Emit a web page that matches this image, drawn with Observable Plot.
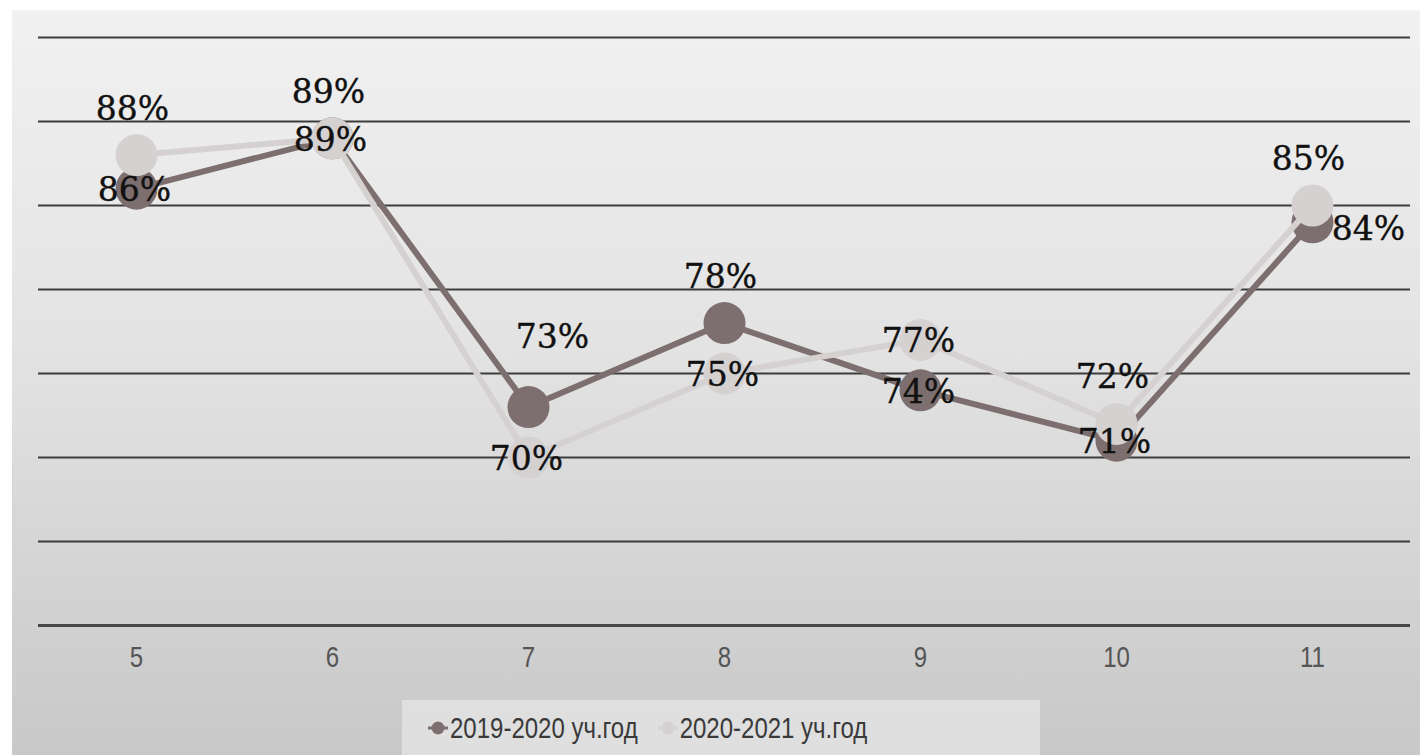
<!DOCTYPE html>
<html>
<head>
<meta charset="utf-8">
<script src="https://cdn.jsdelivr.net/npm/d3@7"></script>
<script src="https://cdn.jsdelivr.net/npm/@observablehq/plot@0.6"></script>
<style>
  html, body { margin: 0; padding: 0; background: #ffffff; width: 1420px; height: 755px; overflow: hidden; }
  #frame { position: absolute; left: 12px; top: 10px; width: 1408px; height: 745px;
           background: linear-gradient(#f1f1f1 0%, #e3e3e3 45%, #c8c8c8 100%); }
  #chart { position: absolute; left: 0; top: 0; }
  #legend { position: absolute; left: 390px; top: 690px; width: 638px; height: 55px;
            background: rgba(240,240,240,0.55); display: flex; align-items: center; gap: 20px;
            padding-left: 26px; box-sizing: border-box;
            font-family: "Liberation Sans", Arial, sans-serif; font-size: 24px; color: #3a3a3a; }
  .item { display: flex; align-items: center; gap: 2px; }
  .item span { display: inline-block; transform: scaleY(1.22); }
</style>
</head>
<body>
<div id="frame">
  <div id="chart"></div>
  <div id="legend"></div>
</div>
<script>
// ---- data ----
const grades = ["5", "6", "7", "8", "9", "10", "11"];
const series2019 = [0.86, 0.89, 0.73, 0.78, 0.74, 0.71, 0.84];
const series2020 = [0.88, 0.89, 0.70, 0.75, 0.77, 0.72, 0.85];
const seriesNames = ["2019-2020 уч.год", "2020-2021 уч.год"];
const yTicks = [0.60, 0.65, 0.70, 0.75, 0.80, 0.85, 0.90, 0.95];

// label placement (render config)
const place2019 = ["center", "center", "high", "above", "center", "center", "right"];
const place2020 = ["above", "above", "center", "center", "center", "above", "above"];

const colors = { [seriesNames[0]]: "#7d6e6f", [seriesNames[1]]: "#d5d1d1" };

const rows = [];
grades.forEach((g, i) => {
  rows.push({ grade: g, value: series2019[i], series: seriesNames[0], place: place2019[i] });
});
grades.forEach((g, i) => {
  rows.push({ grade: g, value: series2020[i], series: seriesNames[1], place: place2020[i] });
});

const fmt = d => Math.round(d.value * 100) + "%";
const labelStyle = { fontFamily: "DejaVu Serif, serif", fontSize: 33, fill: "#111111",
                     stroke: "#111111", strokeWidth: 0.4 };
const placements = {
  center: { dx: -2, dy: 2 },
  above: { dx: -4, dy: -46 },
  high: { dx: 24, dy: -70 },
  right: { dx: 56, dy: 7 }
};

const marks = [
  Plot.ruleY(yTicks.slice(1), { stroke: "#3c3c3c", strokeWidth: 2 }),
  Plot.ruleY([yTicks[0]], { stroke: "#474747", strokeWidth: 3 })
];
for (const name of seriesNames) {
  const d = rows.filter(r => r.series === name);
  marks.push(Plot.line(d, { x: "grade", y: "value", stroke: colors[name], strokeWidth: 6 }));
  marks.push(Plot.dot(d, { x: "grade", y: "value", r: 21, fill: colors[name] }));
}
for (const [key, off] of Object.entries(placements)) {
  marks.push(Plot.text(rows.filter(r => r.place === key), {
    x: "grade", y: "value", text: fmt, dx: off.dx, dy: off.dy, ...labelStyle
  }));
}

const chart = Plot.plot({
  width: 1408,
  height: 680,
  marginTop: 27,
  marginBottom: 65,
  marginLeft: 26,
  marginRight: 10,
  style: { background: "transparent", overflow: "visible" },
  x: { type: "point", domain: grades, padding: 0.5, label: null },
  y: { domain: [0.60, 0.95], axis: null },
  marks: [
    ...marks,
    Plot.axisX({ tickSize: 0, tickPadding: 21, label: null, fontSize: 24, fill: "#555555",
                 fontFamily: "Liberation Sans, Arial, sans-serif", className: "xtick" })
  ]
});
document.getElementById("chart").appendChild(chart);
// make tick labels a bit taller (condensed look of the reference)
d3.select(chart).selectAll(".xtick text").each(function () {
  const t = this.getAttribute("transform") || "";
  this.setAttribute("transform", t + " scale(1,1.22)");
});

// legend
const legend = document.getElementById("legend");
seriesNames.forEach(name => {
  const item = document.createElement("div");
  item.className = "item";
  item.innerHTML = `<svg width="20" height="14"><line x1="0" y1="7" x2="20" y2="7" stroke="${colors[name]}" stroke-width="3"/><circle cx="10" cy="7" r="6.5" fill="${colors[name]}"/></svg><span>${name}</span>`;
  legend.appendChild(item);
});
</script>
</body>
</html>
